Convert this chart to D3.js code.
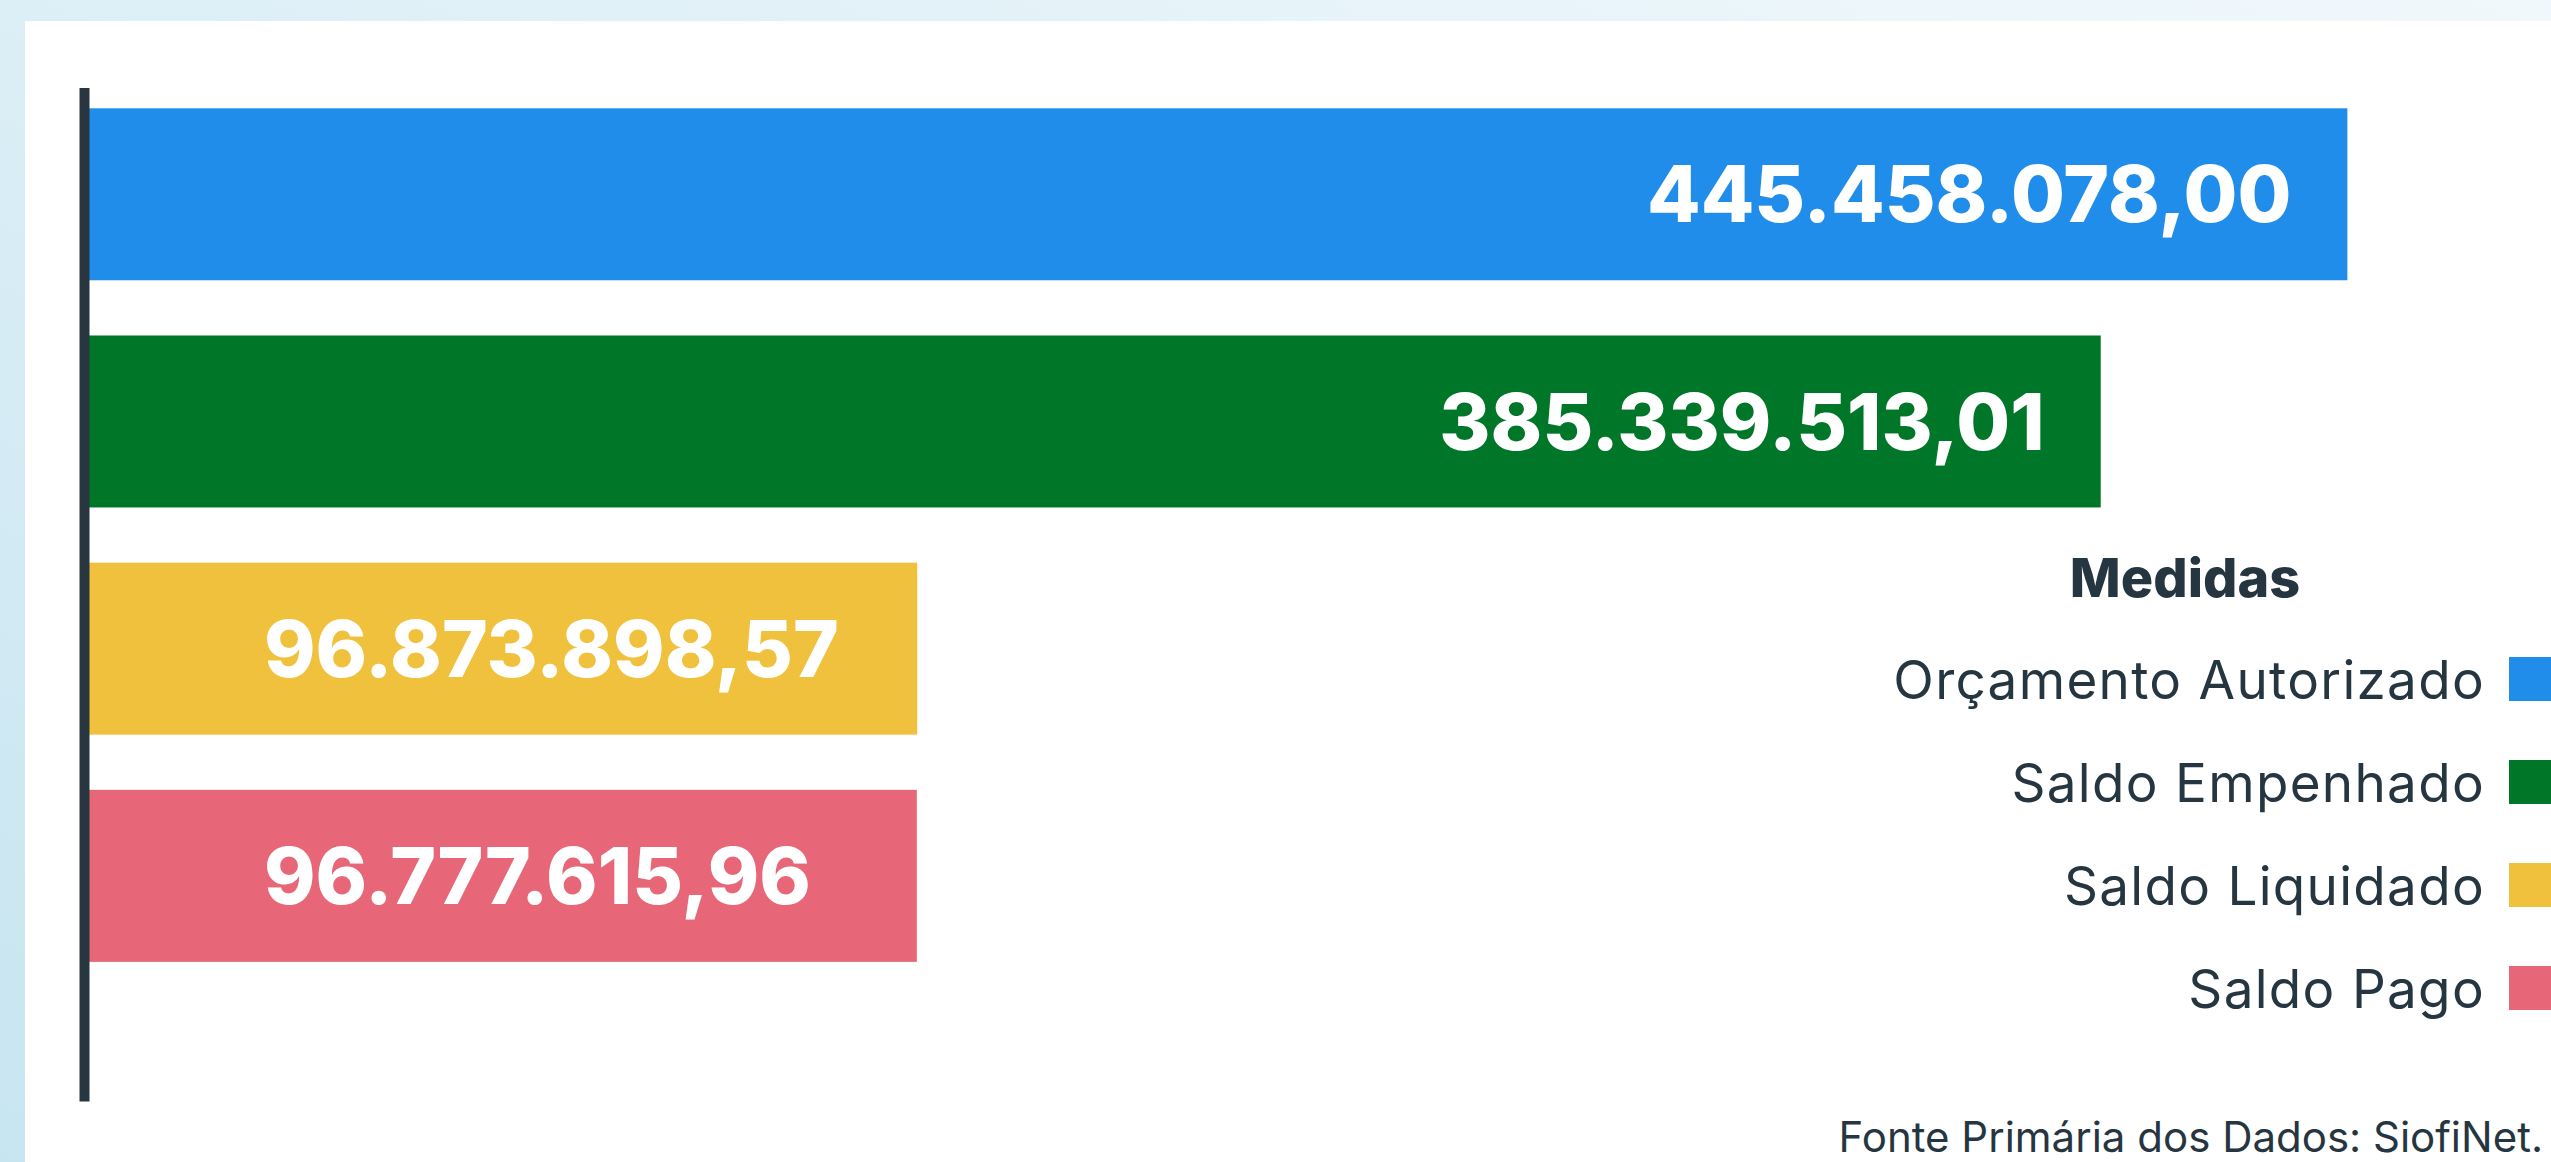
<!DOCTYPE html>
<html>
<head>
<meta charset="utf-8">
<script src="https://cdn.jsdelivr.net/npm/d3@7"></script>
<style>
  html, body { margin: 0; padding: 0; background: #ffffff; }
  svg { display: block; }
</style>
</head>
<body>
<svg id="chart" width="2551" height="1162"></svg>
<script>
// ---- data ----
const categories = ["Orçamento Autorizado", "Saldo Empenhado", "Saldo Liquidado", "Saldo Pago"];
const values = [445458078.00, 385339513.01, 96873898.57, 96777615.96];
const valueLabels = ["445.458.078,00", "385.339.513,01", "96.873.898,57", "96.777.615,96"];
const colors = ["#208dea", "#007629", "#f0c13d", "#e76677"];
const legendTitle = "Medidas";
const sourceNote = "Fonte Primária dos Dados: SiofiNet.";

// ---- layout ----
const W = 2551, H = 1162;
const svg = d3.select("#chart");
const defs = svg.append("defs");
const grad = defs.append("linearGradient").attr("id", "bg")
  .attr("x1", "0").attr("y1", "1").attr("x2", "1").attr("y2", "0");
grad.append("stop").attr("offset", "0").attr("stop-color", "#c7e5f1");
grad.append("stop").attr("offset", "1").attr("stop-color", "#f1f8fc");
svg.append("rect").attr("width", W).attr("height", H).attr("fill", "url(#bg)");
svg.append("rect").attr("x", 25).attr("y", 21).attr("width", W - 25).attr("height", H - 21).attr("fill", "#ffffff");

const x0 = 89;
const x = d3.scaleLinear().domain([-105e6, 450e6]).range([x0, 2366]);
const y = d3.scaleBand().domain(categories).range([87.5, 1101])
  .paddingInner(0.243).paddingOuter(0.352).align(0.13);

// bars
svg.append("g").selectAll("rect").data(categories).join("rect")
  .attr("x", x0)
  .attr("y", d => y(d))
  .attr("width", (d, i) => x(values[i]) - x0)
  .attr("height", y.bandwidth())
  .attr("fill", (d, i) => colors[i]);

// axis line
const axis = svg.append("g").attr("transform", `translate(${x0 - 5},0)`)
  .call(d3.axisLeft(y).tickSize(0).tickSizeOuter(0).tickFormat(""));
axis.select(".domain").attr("stroke", "#27363f").attr("stroke-width", 10);

// value labels
const fontBold = "Inter, 'Open Sans', sans-serif";
svg.append("g").selectAll("text").data(categories).join("text")
  .attr("font-family", fontBold)
  .attr("font-weight", 800)
  .attr("font-size", 78)
  .attr("fill", "#ffffff")
  .attr("text-anchor", (d, i) => (x(values[i]) - x0 > 1000 ? "end" : "start"))
  .attr("x", (d, i) => (x(values[i]) - x0 > 1000 ? x(values[i]) - 56 : x0 + 175))
  .attr("y", d => y(d) + y.bandwidth() / 2)
  .attr("dy", "0.36em")
  .text((d, i) => valueLabels[i]);

// legend
const textColor = "#263641";
svg.append("text")
  .attr("x", 2185).attr("y", 597)
  .attr("text-anchor", "middle")
  .attr("font-family", fontBold).attr("font-weight", 800).attr("font-size", 54)
  .attr("fill", textColor)
  .text(legendTitle);

const lg = svg.append("g").selectAll("g").data(categories).join("g")
  .attr("transform", (d, i) => `translate(0,${699 + i * 103})`);
lg.append("text")
  .attr("x", 2485).attr("y", 0)
  .attr("text-anchor", "end")
  .attr("font-family", "Inter, 'Open Sans', sans-serif").attr("font-size", 53)
  .attr("letter-spacing", "1.3px")
  .attr("fill", textColor)
  .text(d => d);
lg.append("rect")
  .attr("x", 2509).attr("y", -42).attr("width", 60).attr("height", 44)
  .attr("fill", (d, i) => colors[i]);

// source note
svg.append("text")
  .attr("x", 2543).attr("y", 1152)
  .attr("text-anchor", "end")
  .attr("font-family", "Inter, 'Open Sans', sans-serif").attr("font-size", 42)
  .attr("fill", textColor)
  .text(sourceNote);
</script>
</body>
</html>
